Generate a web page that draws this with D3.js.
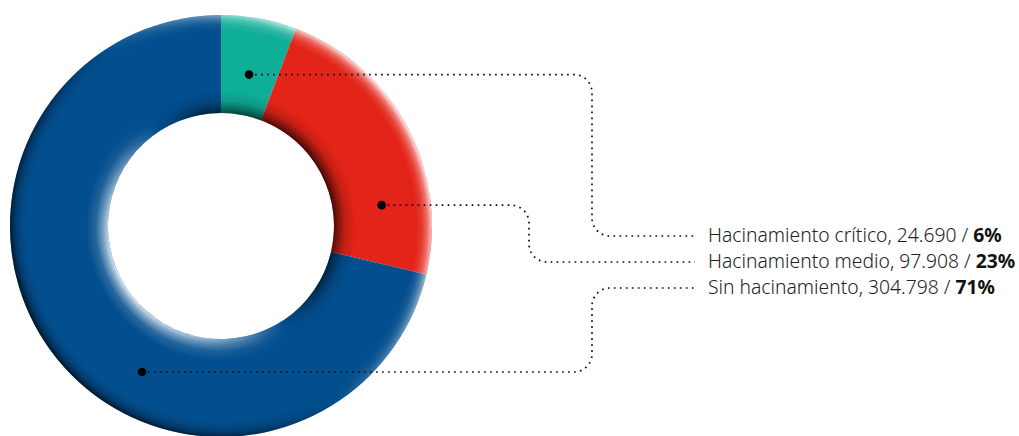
<!DOCTYPE html>
<html>
<head>
<meta charset="utf-8">
<script src="https://cdn.jsdelivr.net/npm/d3@7"></script>
<style>
  html, body { margin: 0; padding: 0; background: #fff; }
  svg { display: block; }
  .legend text { font-family: "Noto Sans", "Open Sans", sans-serif; font-size: 19.3px; font-weight: 300; fill: #222; }
  .legend tspan.pct { font-weight: 700; fill: #111; }
</style>
</head>
<body>
<svg id="chart" width="1019" height="436"></svg>
<script>
// Households by overcrowding level
const categories = ["Hacinamiento crítico", "Hacinamiento medio", "Sin hacinamiento"];
const households = [24690, 97908, 304798];
const sliceColors = ["#0fae98", "#e32418", "#034e8e"];

// Ring geometry
const cx = 221, cy = 226, outerR = 211, innerR = 113;
// Leader anchors inside each slice: [angle in degrees clockwise from 12 o'clock, radius]
const anchors = [[10.5, 154], [82.6, 162], [208.4, 166]];
// Leader routing: vertical elbow x and legend row y
const elbowX = [592, 529, 592];
const rowY = [236, 262, 288];
const leaderEndX = 695, labelX = 708, cornerR = 18;

const svg = d3.select("#chart");
const defs = svg.append("defs");

const total = d3.sum(households);
const fmtNum = d3.formatLocale({ decimal: ",", thousands: ".", grouping: [3], currency: ["$", ""] }).format(",d");

const pie = d3.pie().sort(null).value(d => d)(households);
const arc = d3.arc().innerRadius(innerR).outerRadius(outerR);

// Light direction (from upper right) used for rim shading; all shading
// defs live in the ring's local frame, centred on (0, 0)
const lightAngle = 57 * Math.PI / 180;
const Lx = Math.sin(lightAngle), Ly = -Math.cos(lightAngle);

function shadeGradient(id, x1, y1, x2, y2, stops) {
  const g = defs.append("linearGradient").attr("id", id)
    .attr("gradientUnits", "userSpaceOnUse")
    .attr("x1", x1).attr("y1", y1).attr("x2", x2).attr("y2", y2);
  stops.forEach(s => g.append("stop").attr("offset", s[0]).attr("stop-color", s[1]).attr("stop-opacity", s[2]));
}
function fadeMask(id, radius, stops) {
  const rg = defs.append("radialGradient").attr("id", id + "-grad")
    .attr("gradientUnits", "userSpaceOnUse")
    .attr("cx", 0).attr("cy", 0).attr("r", radius);
  stops.forEach(s => rg.append("stop").attr("offset", s[0]).attr("stop-color", d3.rgb(s[1] * 255, s[1] * 255, s[1] * 255)));
  const m = defs.append("mask").attr("id", id).attr("maskUnits", "userSpaceOnUse")
    .attr("x", -radius - 5).attr("y", -radius - 5).attr("width", 2 * radius + 10).attr("height", 2 * radius + 10);
  m.append("rect").attr("x", -radius - 5).attr("y", -radius - 5)
    .attr("width", 2 * radius + 10).attr("height", 2 * radius + 10).attr("fill", `url(#${id}-grad)`);
}

// Outer rim: lit towards the light, shaded away from it
shadeGradient("outer-shade", -Lx * outerR, -Ly * outerR, Lx * outerR, Ly * outerR, [
  [0, "#000", 0.72], [0.3, "#000", 0.45], [0.5, "#000", 0], [0.5, "#fff", 0], [0.7, "#fff", 0.35], [1, "#fff", 0.9]
]);
// Inner rim: the inward-facing wall, lit on the side opposite the light
shadeGradient("inner-shade", Lx * innerR, Ly * innerR, -Lx * innerR, -Ly * innerR, [
  [0, "#000", 0.72], [0.3, "#000", 0.5], [0.5, "#000", 0], [0.5, "#fff", 0], [0.7, "#fff", 0.4], [1, "#fff", 0.85]
]);
const outerBand = 16, innerBand = 22;
fadeMask("outer-fade", outerR, [
  [(outerR - outerBand) / outerR, 0], [(outerR - 10) / outerR, 0.15], [(outerR - 5) / outerR, 0.45], [1, 1]
]);
fadeMask("inner-fade", innerR + innerBand, [
  [innerR / (innerR + innerBand), 1], [(innerR + 5) / (innerR + innerBand), 0.6], [(innerR + 12) / (innerR + innerBand), 0.18], [1, 0]
]);

const ring = svg.append("g").attr("transform", `translate(${cx},${cy})`);
ring.selectAll("path.slice").data(pie).join("path")
  .attr("class", "slice")
  .attr("d", arc)
  .attr("fill", (d, i) => sliceColors[i]);

// Rim shading overlays
const fullTurn = { startAngle: 0, endAngle: 2 * Math.PI };
ring.append("path")
  .attr("d", d3.arc().innerRadius(outerR - outerBand).outerRadius(outerR)(fullTurn))
  .attr("fill", "url(#outer-shade)")
  .attr("mask", "url(#outer-fade)");
ring.append("path")
  .attr("d", d3.arc().innerRadius(innerR).outerRadius(innerR + innerBand)(fullTurn))
  .attr("fill", "url(#inner-shade)")
  .attr("mask", "url(#inner-fade)");

// Leader lines and anchor dots
function anchorPoint(i) {
  const a = anchors[i][0] * Math.PI / 180, rr = anchors[i][1];
  return [cx + rr * Math.sin(a), cy - rr * Math.cos(a)];
}
const leaders = svg.append("g");
households.forEach((v, i) => {
  const [x0, y0] = anchorPoint(i);
  const p = d3.path();
  p.moveTo(x0, y0);
  p.arcTo(elbowX[i], y0, elbowX[i], rowY[i], cornerR);
  p.arcTo(elbowX[i], rowY[i], leaderEndX, rowY[i], cornerR);
  p.lineTo(leaderEndX, rowY[i]);
  leaders.append("path").attr("d", p.toString())
    .attr("fill", "none").attr("stroke", "#111")
    .attr("stroke-width", 1.7).attr("stroke-dasharray", "1.7 4.3");
  leaders.append("circle").attr("cx", x0).attr("cy", y0).attr("r", 4.3).attr("fill", "#000");
});

// Legend rows
const legend = svg.append("g").attr("class", "legend");
households.forEach((v, i) => {
  const t = legend.append("text").attr("x", labelX).attr("y", rowY[i] + 5.5);
  t.append("tspan").text(`${categories[i]}, ${fmtNum(v)} / `);
  t.append("tspan").attr("class", "pct").text(`${Math.round(v / total * 100)}%`);
});
</script>
</body>
</html>
